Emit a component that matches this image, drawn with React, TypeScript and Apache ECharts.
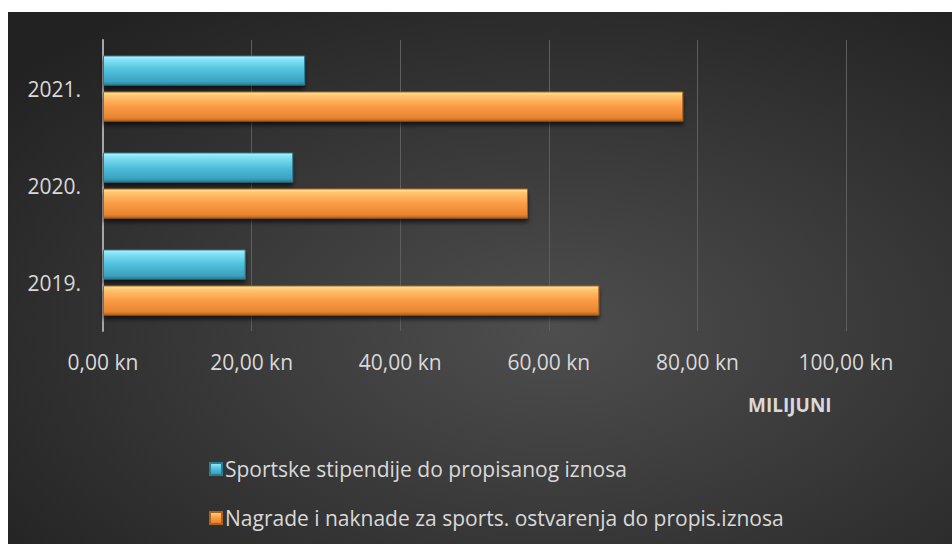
import React, { useEffect, useRef } from "react";
import * as echarts from "echarts";

const categories = ["2019.", "2020.", "2021."];
const stipendije = [19.2, 25.6, 27.2];
const nagrade = [66.8, 57.2, 78.1];
const seriesNames = [
  "Sportske stipendije do propisanog iznosa",
  "Nagrade i naknade za sports. ostvarenja do propis.iznosa",
];
const axisMax = 100;
const axisStep = 20;
const axisTitle = "MILIJUNI";

const FONT = "'Open Sans', 'Noto Sans', sans-serif";
const TXT = "#d9d9d9";

const blueGrad = new echarts.graphic.LinearGradient(0, 0, 0, 1, [
  { offset: 0, color: "#b4f6ff" },
  { offset: 0.12, color: "#86e3f6" },
  { offset: 0.5, color: "#4fbfdb" },
  { offset: 0.88, color: "#3aa2bf" },
  { offset: 1, color: "#2a7d96" },
]);
const orangeGrad = new echarts.graphic.LinearGradient(0, 0, 0, 1, [
  { offset: 0, color: "#ffeaa0" },
  { offset: 0.12, color: "#ffc670" },
  { offset: 0.5, color: "#fb9b46" },
  { offset: 0.88, color: "#e8852f" },
  { offset: 1, color: "#b8631f" },
]);

export default function App() {
  const ref = useRef<HTMLDivElement>(null);
  useEffect(() => {
    const chart = echarts.init(ref.current!, null, { renderer: "svg" });
    chart.setOption({
      animation: false,
      backgroundColor: new echarts.graphic.RadialGradient(0.58, 0.6, 0.75, [
        { offset: 0, color: "#4e4e4e" },
        { offset: 1, color: "#222222" },
      ]),
      grid: { left: 95, right: 106, top: 28, bottom: 213, containLabel: false },
      xAxis: {
        type: "value",
        min: 0,
        max: axisMax,
        interval: axisStep,
        axisLine: { show: false },
        axisTick: { show: false },
        splitLine: { show: true, lineStyle: { color: "#5e5e5e", width: 1 } },
        axisLabel: {
          color: TXT,
          fontFamily: FONT,
          fontSize: 21,
          margin: 20,
          formatter: (v: number) => v.toFixed(2).replace(".", ",") + " kn",
        },
      },
      yAxis: {
        type: "category",
        data: categories,
        axisLine: { show: true, lineStyle: { color: "#a6a6a6", width: 2 } },
        axisTick: { show: false },
        axisLabel: { color: TXT, fontFamily: FONT, fontSize: 21, margin: 22 },
      },
      legend: {
        orient: "vertical",
        left: 196,
        top: 440,
        itemWidth: 12,
        itemHeight: 12,
        itemGap: 25,
        icon: "rect",
        data: seriesNames,
        textStyle: { color: TXT, fontFamily: FONT, fontSize: 21, lineHeight: 24, padding: [0, 0, 0, -2] },
      },
      graphic: [
        {
          type: "text",
          left: 740,
          top: 383,
          style: { text: axisTitle, fill: TXT, font: `bold 19px ${FONT}` },
        },
      ],
      series: [
        {
          name: seriesNames[0],
          type: "bar",
          data: stipendije,
          barWidth: 30,
          barGap: "20%",
          itemStyle: {
            color: blueGrad,
            borderColor: "#2c7c93",
            borderWidth: 1,
            shadowColor: "rgba(0,0,0,0.6)",
            shadowBlur: 4,
            shadowOffsetY: 4,
          },
        },
        {
          name: seriesNames[1],
          type: "bar",
          data: nagrade,
          barWidth: 30,
          barGap: "20%",
          itemStyle: {
            color: orangeGrad,
            borderColor: "#b0601e",
            borderWidth: 1,
            shadowColor: "rgba(0,0,0,0.6)",
            shadowBlur: 4,
            shadowOffsetY: 4,
          },
        },
      ],
    });
    return () => chart.dispose();
  }, []);
  return (
    <div
      ref={ref}
      style={{ position: "absolute", left: 8, top: 12, width: 944, height: 532 }}
    />
  );
}
